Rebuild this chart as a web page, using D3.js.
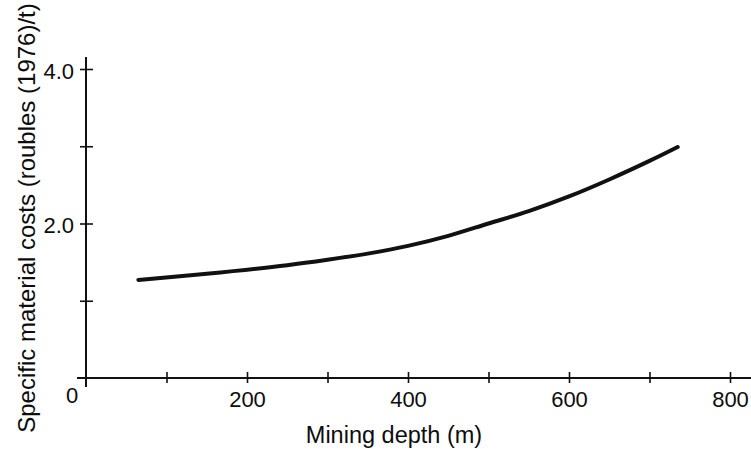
<!DOCTYPE html>
<html>
<head>
<meta charset="utf-8">
<script src="https://cdn.jsdelivr.net/npm/d3@7"></script>
<style>
  html, body { margin: 0; padding: 0; background: #fff; }
  svg { display: block; }
  text { font-family: "Liberation Sans", Arial, Helvetica, sans-serif; fill: #0d0d0d; }
</style>
</head>
<body>
<svg id="chart" width="751" height="449"></svg>
<script>
// Mining depth (m) and specific material costs (roubles 1976 per tonne)
const depth = [65, 150, 250, 300, 350, 400, 450, 500, 550, 600, 650, 700, 735];
const cost  = [1.27, 1.35, 1.46, 1.53, 1.61, 1.71, 1.84, 2.00, 2.16, 2.35, 2.57, 2.81, 2.99];

const depthTicks  = [100, 200, 300, 400, 500, 600, 700, 800];
const depthLabels = ["", "200", "", "400", "", "600", "", "800"];
const costTicks   = [1, 2, 3, 4];
const costLabels  = ["", "2.0", "", "4.0"];

const svg = d3.select("#chart");

const x = d3.scaleLinear().domain([0, 800]).range([86, 730]);
const y = d3.scaleLinear().domain([0, 4]).range([378, 69]);

// axis lines, running a little past the origin and the last tick
svg.append("line")
  .attr("x1", 77).attr("x2", 751)
  .attr("y1", y(0)).attr("y2", y(0))
  .attr("stroke", "#111").attr("stroke-width", 2);
svg.append("line")
  .attr("x1", x(0)).attr("x2", x(0))
  .attr("y1", 57).attr("y2", 387)
  .attr("stroke", "#111").attr("stroke-width", 2);

// x axis ticks (crossing the line) and labels
const xAxis = d3.axisBottom(x)
  .tickValues(depthTicks)
  .tickSize(0)
  .tickFormat((d, i) => depthLabels[i]);
const gx = svg.append("g")
  .attr("transform", `translate(0,${y(0)})`)
  .call(xAxis);
gx.select(".domain").remove();
gx.selectAll(".tick line")
  .attr("y1", -6).attr("y2", 5)
  .attr("stroke", "#111").attr("stroke-width", 1.6);
gx.selectAll(".tick text")
  .attr("y", 29).attr("dy", 0)
  .style("font-size", "22px")
  .attr("fill", "#0d0d0d");

// y axis ticks (crossing the line) and labels
const yAxis = d3.axisLeft(y)
  .tickValues(costTicks)
  .tickSize(0)
  .tickFormat((d, i) => costLabels[i]);
const gy = svg.append("g")
  .attr("transform", `translate(${x(0)},0)`)
  .call(yAxis);
gy.select(".domain").remove();
gy.selectAll(".tick line")
  .attr("x1", -6).attr("x2", 7)
  .attr("stroke", "#111").attr("stroke-width", 1.6);
gy.selectAll(".tick text")
  .attr("x", -12).attr("dy", "0.42em")
  .style("font-size", "22px")
  .attr("fill", "#0d0d0d");

// shared origin label
svg.append("text")
  .attr("x", x(0) - 14).attr("y", y(0) + 25)
  .attr("text-anchor", "middle")
  .style("font-size", "22px")
  .text("0");

// cost curve
const line = d3.line()
  .x((d, i) => x(depth[i]))
  .y((d, i) => y(cost[i]))
  .curve(d3.curveCatmullRom.alpha(0.5));
svg.append("path")
  .datum(cost)
  .attr("d", line)
  .attr("fill", "none")
  .attr("stroke", "#111")
  .attr("stroke-width", 4)
  .attr("stroke-linecap", "round");

// axis titles
svg.append("text")
  .attr("x", 394).attr("y", 443)
  .attr("text-anchor", "middle")
  .style("font-size", "23.5px")
  .text("Mining depth (m)");

svg.append("text")
  .attr("transform", "translate(35,218) rotate(-90)")
  .attr("text-anchor", "middle")
  .style("font-size", "24px")
  .text("Specific material costs (roubles (1976)/t)");
</script>
</body>
</html>
